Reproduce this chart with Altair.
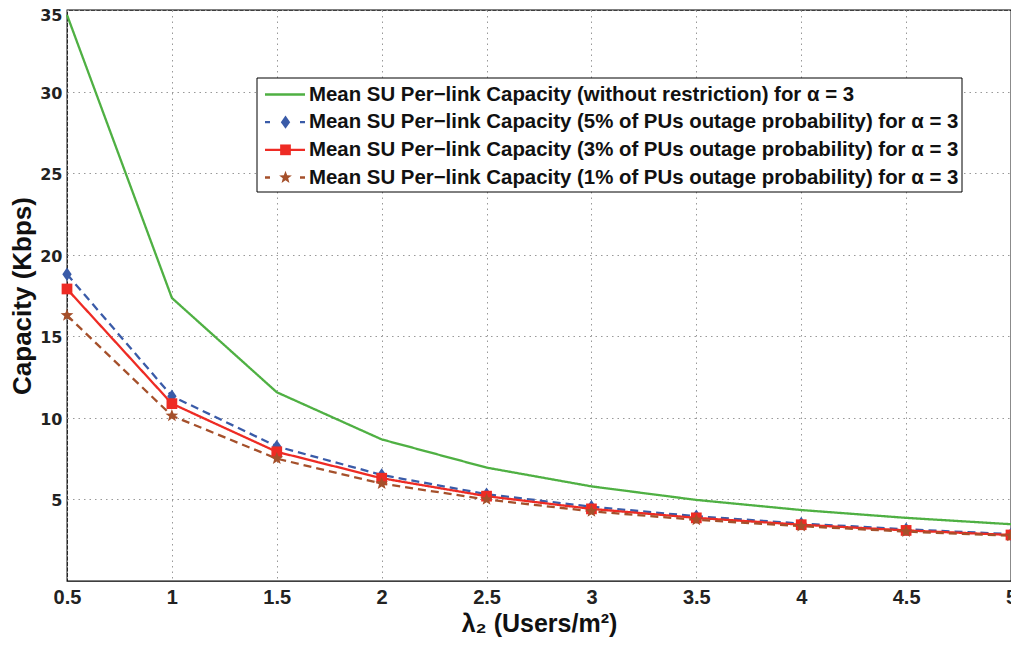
import math
import altair as alt
import pandas as pd

# ---------------- data ----------------
lam = [0.5, 1.0, 1.5, 2.0, 2.5, 3.0, 3.5, 4.0, 4.5, 5.0]
cap_norestrict = [34.7, 17.35, 11.57, 8.68, 6.95, 5.8, 4.97, 4.35, 3.87, 3.48]
cap_5pct = [18.8, 11.33, 8.25, 6.5, 5.32, 4.55, 3.97, 3.52, 3.17, 2.87]
cap_3pct = [17.9, 10.87, 7.92, 6.3, 5.2, 4.42, 3.87, 3.45, 3.1, 2.82]
cap_1pct = [16.28, 10.13, 7.5, 5.97, 5.0, 4.27, 3.75, 3.36, 3.03, 2.77]

series_names = [
    "Mean SU Per\u2212link Capacity (without restriction) for \u03b1 = 3",
    "Mean SU Per\u2212link Capacity (5% of PUs outage probability) for \u03b1 = 3",
    "Mean SU Per\u2212link Capacity (3% of PUs outage probability) for \u03b1 = 3",
    "Mean SU Per\u2212link Capacity (1% of PUs outage probability) for \u03b1 = 3",
]
series_values = [cap_norestrict, cap_5pct, cap_3pct, cap_1pct]

x_ticks = [0.5, 1, 1.5, 2, 2.5, 3, 3.5, 4, 4.5, 5]
y_ticks = [5, 10, 15, 20, 25, 30, 35]

# ---------------- styles ----------------
colors = ["#4fb043", "#3a5ba8", "#ee2b24", "#a5502b"]
dashes = [[1, 0], [8, 5], [1, 0], [8, 5]]
legend_dashes = [[1, 0], [5, 30], [1, 0], [5, 30]]
FONT = "Liberation Sans"
YFONT = "DejaVu Sans"


def star_path(r_out, r_in):
    pts = []
    for k in range(10):
        ang = math.radians(-90 + k * 36)
        r = r_out if k % 2 == 0 else r_in
        pts.append((r * math.cos(ang), r * math.sin(ang)))
    return "M" + "L".join(f"{px:.3f},{py:.3f}" for px, py in pts) + "Z"


marker_paths = [
    None,
    "M0,-1L0.7,0L0,1L-0.7,0Z",
    "M-0.8,-0.8L0.8,-0.8L0.8,0.8L-0.8,0.8Z",
    star_path(1, 0.42),
]

rows = []
for name, vals in zip(series_names, series_values):
    for xv, yv in zip(lam, vals):
        rows.append({"lam": xv, "cap": yv, "series": name})
df = pd.DataFrame(rows)
legend_df = pd.DataFrame({"idx": list(range(len(series_names))), "series": series_names})

# ---------------- scales / axes ----------------
x_scale = alt.Scale(domain=[0.5, 5], nice=False, zero=False)
y_scale = alt.Scale(domain=[0, 35], nice=False, zero=True)
# legend rows (pixel placement of the legend box rows inside the plot)
leg_y_scale = alt.Scale(domain=[0, 3], range=[84.5, 167.5])

x_axis = alt.Axis(
    values=x_ticks, format="~g", title="\u03bb\u2082 (Users/m\u00b2)",
    labelFont=FONT, labelFontWeight="bold", labelFontSize=20, labelColor="#222",
    labelPadding=6, labelFlush=False, ticks=False, domain=False,
    grid=True, gridDash=[1.5, 4], gridColor="#999", gridWidth=1,
    titleFont=FONT, titleFontWeight="bold", titleFontSize=25, titleColor="#111",
    titlePadding=4,
)
y_axis = alt.Axis(
    values=y_ticks, title="Capacity (Kbps)",
    labelFont=YFONT, labelFontWeight="bold", labelFontSize=16, labelColor="#222",
    labelPadding=5, ticks=False, domain=False,
    labelOffset={"condition": {"test": "datum.value == 35", "value": 5}, "value": 1.5},
    grid=True, gridDash=[1.5, 4], gridColor="#999", gridWidth=1,
    titleFont=FONT, titleFontWeight="bold", titleFontSize=26, titleColor="#111",
    titlePadding=4,
)

base = alt.Chart(df)

lines = base.mark_line(strokeWidth=2.3).encode(
    x=alt.X("lam:Q", scale=x_scale, axis=x_axis),
    y=alt.Y("cap:Q", scale=y_scale, axis=y_axis),
    color=alt.Color("series:N", scale=alt.Scale(domain=series_names, range=colors), legend=None),
    strokeDash=alt.StrokeDash("series:N", scale=alt.Scale(domain=series_names, range=dashes), legend=None),
    detail="series:N",
)

layers = [lines]
for i in [1, 2, 3]:
    layers.append(
        base.transform_filter(alt.datum.series == series_names[i])
        .mark_point(shape=marker_paths[i], filled=True, size=180, opacity=1,
                    fill=colors[i], strokeWidth=0)
        .encode(x=alt.X("lam:Q", scale=x_scale),
                y=alt.Y("cap:Q", scale=y_scale, axis=None))
    )

# ---------------- legend (drawn as marks) ----------------
leg_base = alt.Chart(legend_df)
LX0, LX1 = 190, 895          # legend box, px from plot left
SX0, SX1, SXM, TX = 198, 238, 218.5, 242

layers.append(
    leg_base.transform_filter(alt.datum.idx == 0)
    .mark_rect(fill="white", stroke="black", strokeWidth=1)
    .encode(x=alt.value(LX0), x2=alt.value(LX1), y=alt.value(68), y2=alt.value(182))
)
for i in range(4):
    layers.append(
        leg_base.transform_filter(alt.datum.idx == i)
        .mark_rule(color=colors[i], strokeWidth=2.3, strokeDash=legend_dashes[i])
        .encode(x=alt.value(SX0), x2=alt.value(SX1),
                y=alt.Y("idx:Q", scale=leg_y_scale, axis=None))
    )
for i in [1, 2, 3]:
    layers.append(
        leg_base.transform_filter(alt.datum.idx == i)
        .mark_point(shape=marker_paths[i], filled=True, size=180, opacity=1,
                    fill=colors[i], strokeWidth=0)
        .encode(x=alt.value(SXM), y=alt.Y("idx:Q", scale=leg_y_scale, axis=None))
    )
layers.append(
    leg_base.mark_text(align="left", baseline="middle", font=FONT, fontWeight="bold",
                       fontSize=20.4, color="#111")
    .encode(x=alt.value(TX), y=alt.Y("idx:Q", scale=leg_y_scale, axis=None), text="series:N")
)

chart = (
    alt.layer(*layers)
    .resolve_scale(y="independent")
    .properties(
        width=944, height=571,
        autosize=alt.AutoSizeParams(type="none"),
        padding={"left": 59, "top": 2, "right": 0, "bottom": 60},
        background="white",
    )
    .configure_view(stroke="black", strokeWidth=1.3)
)

chart.save("out.html", embed_options={"renderer": "svg", "actions": False})
